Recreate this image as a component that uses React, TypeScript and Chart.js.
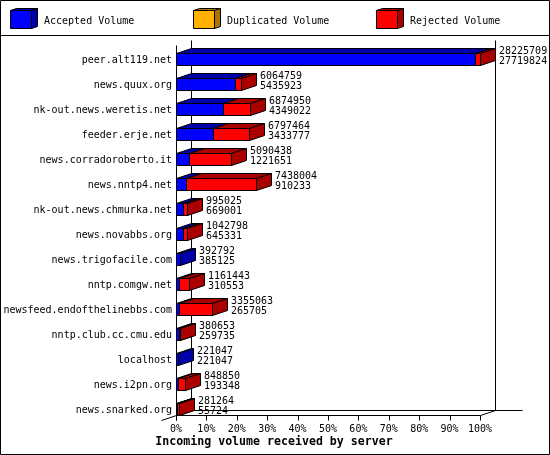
import { useEffect, useRef } from "react";
import { Chart, registerables } from "chart.js";

Chart.register(...registerables);

const servers = [
  "peer.alt119.net",
  "news.quux.org",
  "nk-out.news.weretis.net",
  "feeder.erje.net",
  "news.corradoroberto.it",
  "news.nntp4.net",
  "nk-out.news.chmurka.net",
  "news.novabbs.org",
  "news.trigofacile.com",
  "nntp.comgw.net",
  "newsfeed.endofthelinebbs.com",
  "nntp.club.cc.cmu.edu",
  "localhost",
  "news.i2pn.org",
  "news.snarked.org",
];
const totalVolume = [
  28225709, 6064759, 6874950, 6797464, 5090438, 7438004, 995025, 1042798,
  392792, 1161443, 3355063, 380653, 221047, 848850, 281264,
];
const acceptedVolume = [
  27719824, 5435923, 4349022, 3433777, 1221651, 910233, 669001, 645331,
  385125, 310553, 265705, 259735, 221047, 193348, 55724,
];
const duplicatedVolume = [0, 0, 0, 0, 0, 0, 0, 0, 0, 0, 0, 0, 0, 0, 0];
const rejectedVolume = [
  505885, 628836, 2525928, 3363687, 3868787, 6527771, 326024, 397467,
  7667, 850890, 3089358, 120918, 0, 655502, 225540,
];

const peak = totalVolume[0];
const percent = (values: number[]) => values.map((v) => (v / peak) * 100);

const MONO = '"DejaVu Sans Mono", monospace';
const DEPTH_X = 15;
const DEPTH_Y = 5;
const SERIES = [
  { label: "Accepted Volume", front: "#0000ff", shade: "#0000aa" },
  { label: "Duplicated Volume", front: "#ffb000", shade: "#aa7500" },
  { label: "Rejected Volume", front: "#ff0000", shade: "#aa0000" },
];

function line(ctx: CanvasRenderingContext2D, x1: number, y1: number, x2: number, y2: number) {
  ctx.beginPath();
  ctx.moveTo(x1 + 0.5, y1 + 0.5);
  ctx.lineTo(x2 + 0.5, y2 + 0.5);
  ctx.stroke();
}

function poly(ctx: CanvasRenderingContext2D, pts: number[][], fill: string) {
  ctx.beginPath();
  pts.forEach(([x, y], i) => (i ? ctx.lineTo(x + 0.5, y + 0.5) : ctx.moveTo(x + 0.5, y + 0.5)));
  ctx.closePath();
  ctx.fillStyle = fill;
  ctx.fill();
  ctx.stroke();
}

// front, top and side faces of a block, (l,t)-(r,b) being the front
function block(
  ctx: CanvasRenderingContext2D,
  l: number, t: number, r: number, b: number,
  dx: number, dy: number,
  front: string, shade: string
) {
  poly(ctx, [[l, t], [l + dx, t - dy], [r + dx, t - dy], [r, t]], shade);
  poly(ctx, [[r, t], [r + dx, t - dy], [r + dx, b - dy], [r, b]], shade);
  poly(ctx, [[l, t], [r, t], [r, b], [l, b]], front);
}

// the picture's frame, 3D walls, blocks and number labels
const boxes3d = {
  id: "boxes3d",
  beforeDatasetsDraw(chart: Chart) {
    const { ctx, scales } = chart;
    const x = scales.x;
    const y = scales.y;
    const left = Math.round(x.left);
    const right = Math.round(x.right);
    const floor = Math.round(y.bottom) - 7;
    const top = Math.round(y.top) - 2;

    ctx.save();
    ctx.strokeStyle = "#000";
    ctx.lineWidth = 1;

    line(ctx, 0, 0, 549, 0);
    line(ctx, 549, 0, 549, 454);
    line(ctx, 549, 454, 0, 454);
    line(ctx, 0, 454, 0, 0);
    line(ctx, 0, 35, 549, 35);

    // legend swatches
    ctx.font = `10px ${MONO}`;
    ctx.textBaseline = "middle";
    ctx.textAlign = "left";
    ctx.fillStyle = "#000";
    SERIES.forEach((s, i) => {
      const off = 183 * i;
      block(ctx, 10 + off, 10, 31 + off, 28, 6, 2, s.front, s.shade);
      ctx.fillStyle = "#000";
      ctx.fillText(s.label, 44 + off, 21);
    });

    // walls
    line(ctx, left, top, left, floor + 5);
    line(ctx, left + DEPTH_X, top - DEPTH_Y, left + DEPTH_X, floor - DEPTH_Y);
    line(ctx, right + DEPTH_X, top - DEPTH_Y, right + DEPTH_X, floor - DEPTH_Y);
    line(ctx, left + DEPTH_X, floor - DEPTH_Y, right + 42, floor - DEPTH_Y);
    line(ctx, left, floor, right, floor);
    line(ctx, left - DEPTH_X, floor + DEPTH_Y, left + DEPTH_X, floor - DEPTH_Y);
    line(ctx, right, floor, right + DEPTH_X, floor - DEPTH_Y);
    x.ticks.forEach((t) => {
      const px = Math.round(x.getPixelForValue(t.value));
      line(ctx, px, floor, px, floor + DEPTH_Y);
    });

    // stacked blocks, placed from the bar elements
    chart.data.datasets.forEach((_, di) => {
      const s = SERIES[di];
      chart.getDatasetMeta(di).data.forEach((el: any) => {
        const l = Math.round(el.base);
        const r = Math.round(el.x);
        if (r <= l) return;
        const t = Math.round(el.y - el.height / 2);
        const b = t + 12;
        block(ctx, l, t, r, b, DEPTH_X, DEPTH_Y, s.front, s.shade);
      });
    });

    // number labels next to each bar
    ctx.fillStyle = "#000";
    ctx.font = `10px ${MONO}`;
    ctx.textAlign = "left";
    totalVolume.forEach((total, i) => {
      const px = Math.round(x.getPixelForValue((total / peak) * 100)) + DEPTH_X + 4;
      const t = Math.round(y.getPixelForValue(i) - 6.5);
      ctx.fillText(String(total), px, t - 2);
      ctx.fillText(String(acceptedVolume[i]), px, t + 8);
    });

    ctx.font = `bold 11.6px ${MONO}`;
    ctx.textAlign = "center";
    ctx.fillText("Incoming volume received by server", 274, 442);
    ctx.restore();
    return false;
  },
};

export default function App() {
  const chartRef = useRef<HTMLCanvasElement>(null);

  useEffect(() => {
    if (!chartRef.current) return;
    document.body.style.margin = "0";

    const chart = new Chart(chartRef.current, {
      type: "bar",
      plugins: [boxes3d],
      data: {
        labels: servers,
        datasets: [
          { label: SERIES[0].label, data: percent(acceptedVolume), backgroundColor: SERIES[0].front },
          { label: SERIES[1].label, data: percent(duplicatedVolume), backgroundColor: SERIES[1].front },
          { label: SERIES[2].label, data: percent(rejectedVolume), backgroundColor: SERIES[2].front },
        ],
      },
      options: {
        indexAxis: "y",
        responsive: false,
        animation: false,
        barThickness: 13,
        layout: { padding: { top: 47, right: 70, bottom: 20, left: 0 } },
        plugins: {
          legend: { display: false },
          tooltip: { enabled: false },
        },
        scales: {
          x: {
            stacked: true,
            min: 0,
            max: 100,
            grid: { display: false, drawTicks: false },
            border: { display: false },
            afterFit: (scale: any) => {
              scale.height = 13;
            },
            ticks: {
              stepSize: 10,
              padding: 1,
              maxRotation: 0,
              color: "#000",
              font: { family: MONO, size: 10 },
              callback: (value: any) => `${value}%`,
            },
          },
          y: {
            stacked: true,
            grid: { display: false, drawTicks: false },
            border: { display: false },
            afterFit: (scale: any) => {
              scale.width = 176;
            },
            ticks: {
              padding: 4,
              labelOffset: 1,
              autoSkip: false,
              color: "#000",
              font: { family: MONO, size: 10 },
            },
          },
        },
      } as any,
    });

    return () => {
      chart.destroy();
    };
  }, []);

  return <canvas ref={chartRef} width={550} height={455} style={{ display: "block" }} />;
}
